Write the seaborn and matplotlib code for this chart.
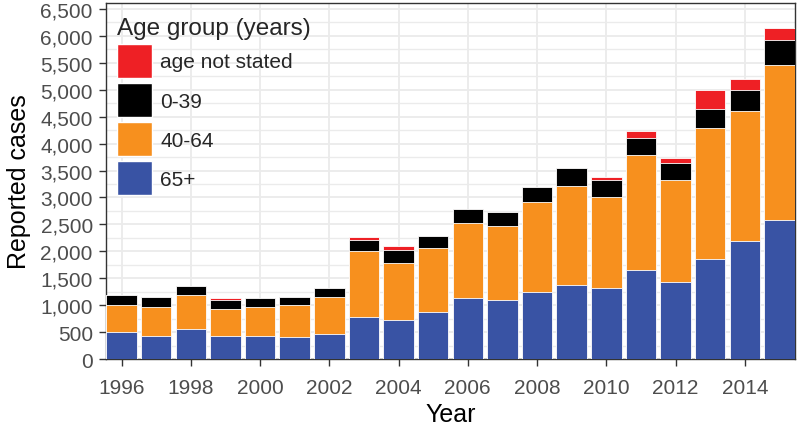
import matplotlib
matplotlib.use("Agg")
import matplotlib.pyplot as plt
from matplotlib.patches import Patch
from matplotlib.ticker import MultipleLocator, FuncFormatter
import seaborn as sns
import pandas as pd
import numpy as np

years = list(range(1996, 2016))
age_65_plus = [500, 435, 560, 435, 435, 400, 465, 775, 725, 880,
               1125, 1090, 1250, 1375, 1315, 1655, 1435, 1850, 2190, 2580]
age_40_64 = [500, 535, 630, 495, 535, 600, 690, 1225, 1050, 1180,
             1400, 1380, 1660, 1845, 1695, 2140, 1880, 2445, 2415, 2875]
age_0_39 = [185, 185, 160, 165, 155, 155, 155, 215, 255, 230,
            260, 255, 280, 320, 315, 310, 320, 345, 390, 470]
age_not_stated = [0, 0, 0, 35, 0, 0, 0, 45, 60, 0,
                  0, 0, 0, 0, 50, 125, 95, 355, 210, 220]

groups = ["age not stated", "0-39", "40-64", "65+"]
colors = {"age not stated": "#EE2025", "0-39": "#000000",
          "40-64": "#F7901E", "65+": "#3953A4"}

df = pd.DataFrame({"Year": years, "65+": age_65_plus, "40-64": age_40_64,
                   "0-39": age_0_39, "age not stated": age_not_stated})
# cumulative tops for stacking (bottom to top: 65+, 40-64, 0-39, not stated)
df["top_65+"] = df["65+"]
df["top_40-64"] = df["top_65+"] + df["40-64"]
df["top_0-39"] = df["top_40-64"] + df["0-39"]
df["top_age not stated"] = df["top_0-39"] + df["age not stated"]

sns.set_theme(style="white")
plt.rcParams["font.family"] = ["Liberation Sans", "DejaVu Sans"]

fig = plt.figure(figsize=(8, 4.31), dpi=100)
ax = fig.add_axes([0.1325, 0.1647, 0.8612, 0.826])

for g in groups:
    sns.barplot(data=df, x="Year", y=f"top_{g}", native_scale=True,
                color=colors[g], saturation=1, width=0.88,
                edgecolor="white", linewidth=0.6, ax=ax, zorder=3)

ax.set_xlim(1995.55, 2015.45)
ax.set_ylim(0, 6610)
ax.xaxis.set_major_locator(MultipleLocator(2))
ax.yaxis.set_major_locator(MultipleLocator(500))
ax.yaxis.set_minor_locator(MultipleLocator(250))
ax.yaxis.set_major_formatter(FuncFormatter(lambda v, p: f"{int(v):,}"))
ax.xaxis.set_major_formatter(FuncFormatter(lambda v, p: f"{int(v)}"))

ax.grid(True, which="major", axis="both", color="#EBEBEB", linewidth=1.3, zorder=0)
ax.grid(True, which="minor", axis="y", color="#EBEBEB", linewidth=1.0, zorder=0)
ax.set_axisbelow(True)

for s in ax.spines.values():
    s.set_visible(True)
    s.set_color("#333333")
    s.set_linewidth(1.0)

ax.tick_params(axis="both", which="major", direction="out", length=5, width=1.0,
               color="#333333", labelsize=15, labelcolor="#4D4D4D",
               bottom=True, left=True)
ax.tick_params(axis="x", which="major", pad=8.5)
ax.tick_params(axis="y", which="major", pad=4.5)
ax.tick_params(axis="both", which="minor", length=0)

ax.set_xlabel("Year", fontsize=18, color="black", labelpad=3.5)
ax.set_ylabel("Reported cases", fontsize=18, color="black", labelpad=6.5)

handles = [Patch(facecolor=colors[g], edgecolor="white", linewidth=1) for g in groups]
leg = ax.legend(handles, groups, title="Age group (years)", loc="upper left",
                bbox_to_anchor=(0.016, 0.961), frameon=False, fontsize=15,
                title_fontsize=17.5, handlelength=1.68, handleheight=2.14,
                handletextpad=0.4, labelspacing=0.24, borderpad=0,
                borderaxespad=0, alignment="left")
leg.set_zorder(5)

fig.savefig("out.png", dpi=100)
